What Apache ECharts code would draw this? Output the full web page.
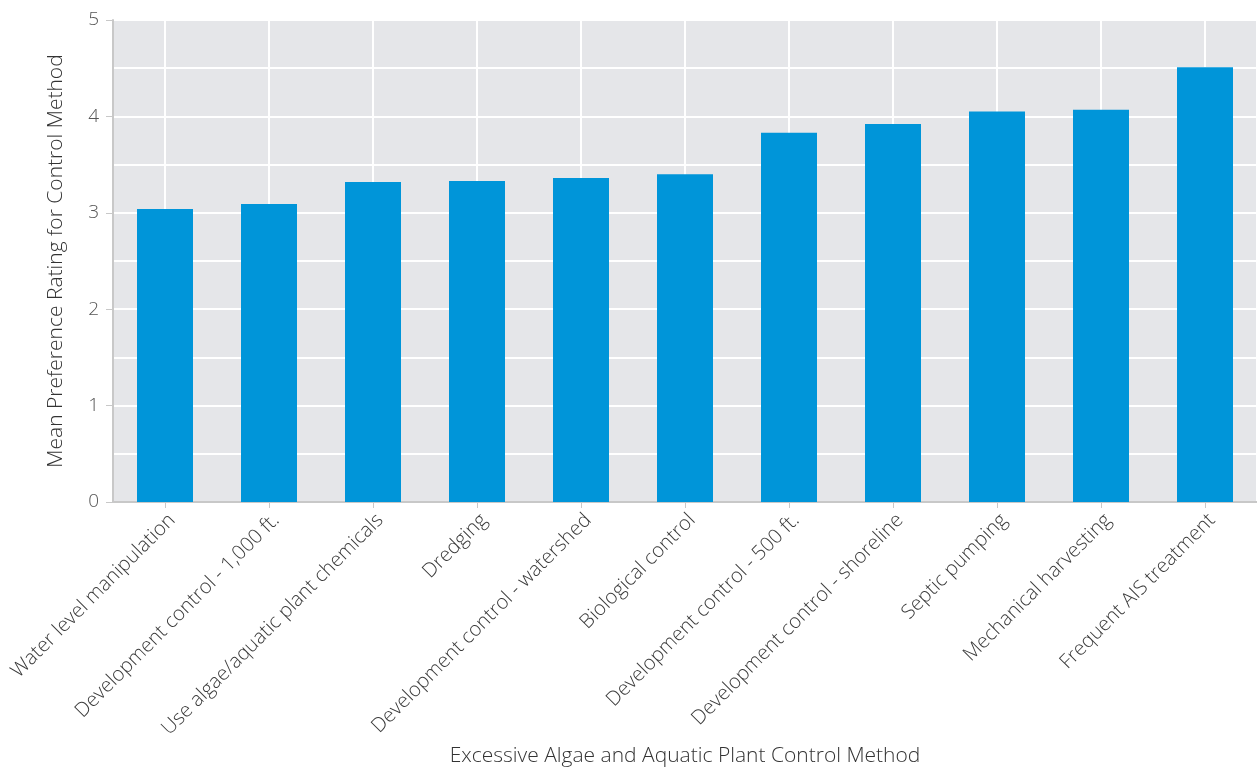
<!DOCTYPE html>
<html>
<head>
<meta charset="utf-8">
<script src="https://cdn.jsdelivr.net/npm/echarts@6/dist/echarts.min.js"></script>
<style>
html,body{margin:0;padding:0;background:#fff;}
#chart{width:1257px;height:770px;}
</style>
</head>
<body>
<div id="chart"></div>
<script>
const categories = [
  "Water level manipulation",
  "Development control - 1,000 ft.",
  "Use algae/aquatic plant chemicals",
  "Dredging",
  "Development control - watershed",
  "Biological control",
  "Development control - 500 ft.",
  "Development control - shoreline",
  "Septic pumping",
  "Mechanical harvesting",
  "Frequent AIS treatment"
];
const values = [3.04, 3.09, 3.32, 3.33, 3.36, 3.40, 3.83, 3.92, 4.05, 4.07, 4.51];
const xAxisTitle = "Excessive Algae and Aquatic Plant Control Method";
const yAxisTitle = "Mean Preference Rating for Control Method";

// half-category helper axis used only to draw vertical gridlines at category centers
const halfCats = [];
for (let i = 0; i < categories.length * 2; i++) halfCats.push(String(i));

const font = "'Open Sans', 'Noto Sans', sans-serif";
const chart = echarts.init(document.getElementById('chart'));
chart.setOption({
  animation: false,
  textStyle: { fontFamily: font },
  grid: {
    left: 113, right: 0, top: 20, bottom: 268,
    outerBoundsMode: 'none',
    containLabel: false,
    show: true, backgroundColor: '#e5e6e9', borderWidth: 0
  },
  xAxis: [
    {
      type: 'category',
      data: categories,
      name: xAxisTitle,
      nameLocation: 'middle',
      nameGap: 242,
      nameTextStyle: { fontSize: 21, color: '#333', fontFamily: font, fontWeight: 300 },
      axisLine: { show: true, lineStyle: { color: '#c8c8c8', width: 2 } },
      axisTick: { show: true, alignWithLabel: true, length: 6, lineStyle: { color: '#c8c8c8' } },
      axisLabel: { rotate: 45, fontSize: 20, color: '#3a3a3a', margin: 8, verticalAlign: 'top', interval: 0, fontFamily: font, fontWeight: 300 },
      splitLine: { show: false }
    },
    {
      type: 'category',
      data: halfCats,
      position: 'bottom',
      show: true,
      axisLine: { show: false },
      axisTick: { show: false },
      axisLabel: { show: false },
      splitLine: {
        show: true,
        interval: function (idx) { return idx % 2 === 1; },
        lineStyle: { color: '#ffffff', width: 2 }
      }
    }
  ],
  yAxis: {
    type: 'value',
    min: 0, max: 5, interval: 1,
    name: yAxisTitle,
    nameLocation: 'middle',
    nameGap: 46,
    nameTextStyle: { fontSize: 21, color: '#333', fontFamily: font, fontWeight: 300 },
    axisLine: { show: true, lineStyle: { color: '#c8c8c8', width: 2 } },
    axisTick: { show: true, length: 7, lineStyle: { color: '#c8c8c8' } },
    axisLabel: { fontSize: 19, color: '#555', margin: 14, fontFamily: font, fontWeight: 300 },
    splitLine: { show: true, lineStyle: { color: '#ffffff', width: 2 } },
    minorTick: { show: false, splitNumber: 2 },
    minorSplitLine: { show: true, lineStyle: { color: '#ffffff', width: 2 } }
  },
  series: [{
    type: 'bar',
    data: values,
    xAxisIndex: 0,
    barWidth: 56,
    itemStyle: { color: '#0095d9' }
  }]
});
</script>
</body>
</html>
